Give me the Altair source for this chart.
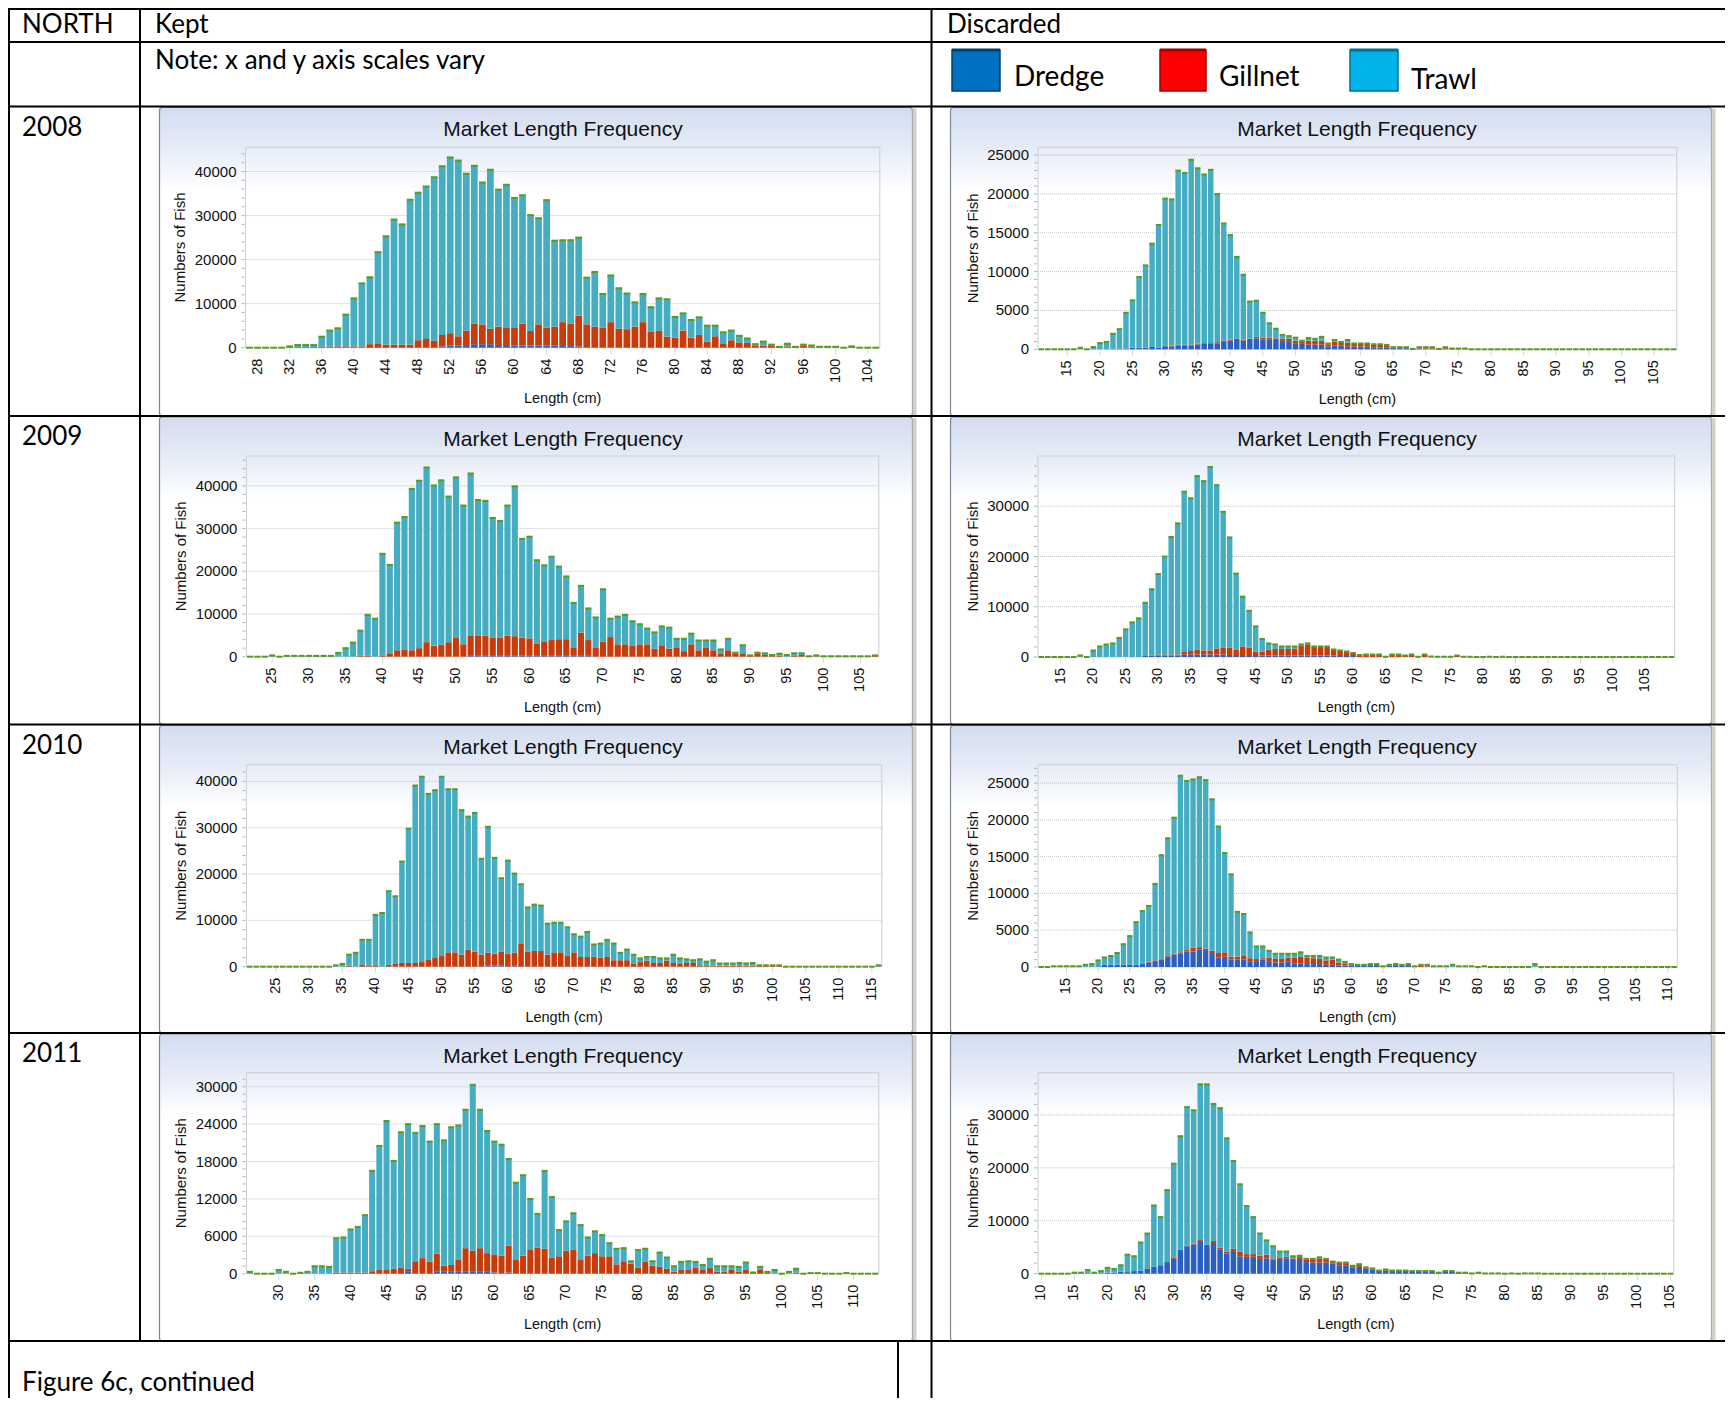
import altair as alt
import pandas as pd

W, H = 1717, 1390   # drawing area (page minus the 8px margin)
M = 8               # layout numbers below are page pixels; subtract M for chart pixels

GEARS = ["Dredge", "Gillnet", "Trawl"]
BAR_COLORS = ["#2b60c2", "#c83c0c", "#45adc1"]
CAP_COLOR = "#5b9a1d"


def run(a, b, v):
    return {c: v for c in range(a, b + 1)}


# ---------------------------------------------------------------- values
# KEPT 2008 (lengths 27..105)
K08_TOTAL = [0, 0, 0, 0, 0, 300, 600, 600, 600, 2500, 3900, 4400, 7500, 11200, 14600, 16000, 21700, 25300,
             29100, 28000, 33600, 35200, 36600, 38700, 41200, 43200, 42500, 39500, 41300, 37500, 40400, 35900,
             37000, 34000, 34600, 30100, 29400, 33500, 24300, 24400, 24400, 25000, 15900, 17200, 12200, 16400,
             13500, 12300, 10300, 12200, 9200, 11200, 11000, 7000, 7800, 6300, 6900, 5000, 5000, 3500, 3900,
             2700, 2100, 800, 1400, 700, 200, 900, 200, 700, 500, 200, 200, 200, 0, 300, 0, 0, 0]
K08_GILL = {**run(32, 35, 150), **run(36, 41, 300), 42: 800, 43: 1000, **run(44, 47, 550), 48: 1550, 49: 1850,
            50: 1450, 51: 2600, 52: 2800, 53: 2100, 54: 3300, 55: 4700, 56: 4500, 57: 3500, 58: 4200, 59: 3900,
            60: 4000, 61: 5000, 62: 3300, 63: 4800, 64: 4100, 65: 4300, 66: 5400, 67: 5100, 68: 7000, 69: 5150,
            70: 4650, 71: 4450, 72: 5650, 73: 4150, 74: 4050, 75: 4650, 76: 5650, 77: 3550, 78: 3650, 79: 2350,
            80: 2150, 81: 3900, 82: 2300, 83: 2900, 84: 1400, 85: 2600, 86: 1000, 87: 1700, 88: 1200, 89: 1100,
            90: 400, 91: 500, 92: 500, 93: 150, 94: 300, 95: 150, 96: 500, 97: 300, 98: 100, 99: 100, 100: 100,
            102: 200}
K08_DREDGE = {**run(44, 50, 150), 51: 300, 52: 500, 53: 500, 54: 600, 55: 800, 56: 800, 57: 800, 58: 600,
              59: 600, **run(60, 65, 500), 66: 400, 67: 400, 68: 300, **run(69, 80, 150)}

# KEPT 2009 (lengths 22..107)
K09_TOTAL = [0, 0, 0, 300, 0, 200, 200, 200, 200, 200, 200, 200, 900, 2000, 3300, 6100, 9800, 8900, 24100,
             21500, 31400, 32700, 39300, 41200, 44300, 40100, 41300, 37500, 42000, 35400, 42900, 36700, 36500,
             32500, 31800, 35400, 39900, 27600, 28100, 22600, 21400, 23400, 21100, 18800, 12600, 16600, 11300,
             9200, 15800, 8900, 9400, 9800, 8300, 7600, 6600, 5700, 7100, 6800, 4200, 4200, 5400, 3800, 3800,
             3800, 1700, 4200, 950, 2700, 300, 950, 800, 400, 700, 400, 800, 800, 100, 300, 100, 100, 100, 100,
             100, 100, 100, 300]
K09_GILL = {37: 200, 38: 200, 40: 300, 41: 800, 42: 1500, 43: 1700, 44: 1500, 45: 2000, 46: 3400, 47: 2600,
            48: 2800, 49: 3400, 50: 4400, 51: 2900, 52: 4800, 53: 4800, 54: 4700, 55: 4200, 56: 4200, 57: 4700,
            58: 4600, 59: 4300, 60: 4100, 61: 2800, 62: 3400, 63: 3700, 64: 3900, 65: 3900, 66: 2000, 67: 5400,
            68: 3700, 69: 2200, 70: 3500, 71: 4600, 72: 2900, 73: 2900, 74: 2500, 75: 2900, 76: 2900, 77: 1900,
            78: 2500, 79: 1900, 80: 2200, 81: 1300, 82: 2900, 83: 1500, 84: 2200, 85: 1500, 86: 800, 87: 1500,
            88: 800, 89: 800, 90: 300, 91: 800, 92: 400, 93: 200, 94: 200, 96: 300, 97: 400, 99: 100, 107: 300}
K09_DREDGE = run(52, 68, 200)

# KEPT 2010 (lengths 21..116)
K10_TOTAL = [0] * 13 + [300, 600, 2600, 3000, 5800, 5800, 11200, 11600, 16300, 15200, 22700, 29800, 39100,
                        41000, 37300, 38100, 41000, 38300, 38300, 33800, 32400, 33200, 23300, 30200, 23500,
                        19100, 22900, 20100, 17800, 12800, 13400, 13200, 9300, 9500, 9500, 8500, 7000, 6500,
                        7500, 4800, 5000, 5800, 5000, 3000, 3700, 2600, 1800, 2100, 2100, 1800, 1800, 2600,
                        1800, 1600, 1400, 1600, 1100, 1400, 700, 700, 700, 800, 700, 800, 300, 300, 300,
                        300] + [0] * 14 + [300]
K10_GILL = {36: 200, 38: 500, 39: 300, 40: 300, 42: 400, 43: 600, 44: 800, 45: 800, 46: 800, 47: 1000,
            48: 1600, 49: 1900, 50: 2300, 51: 3100, 52: 3100, 53: 2600, 54: 3700, 55: 3200, 56: 2600, 57: 2800,
            58: 2600, 59: 3000, 60: 2800, 61: 2800, 62: 4900, 63: 3200, 64: 3400, 65: 3400, 66: 2600, 67: 3100,
            68: 3100, 69: 2300, 70: 3100, 71: 2100, 72: 2100, 73: 2200, 74: 1900, 75: 2100, 76: 1400, 77: 1400,
            78: 1400, 79: 600, 80: 1000, 81: 1300, 82: 800, 83: 800, 84: 1300, 85: 800, 86: 600, 87: 800,
            88: 800, 89: 300, 90: 300, **run(91, 94, 200), 95: 300, **run(96, 101, 200)}
K10_DREDGE = {57: 200, 58: 200, 59: 200, 61: 200}

# KEPT 2011 (lengths 26..113)
K11_TOTAL = [300, 0, 0, 0, 600, 300, 0, 150, 300, 1200, 1200, 1100, 5700, 5800, 7100, 7500, 9400, 16500,
             20500, 24500, 18100, 22700, 24000, 22600, 23700, 21200, 24000, 21400, 23500, 23800, 26300, 30300,
             26300, 22900, 21200, 20700, 18400, 14600, 15800, 12000, 9600, 16500, 12300, 7000, 8400, 9700,
             7800, 5800, 6800, 6200, 4900, 4000, 4100, 2000, 3800, 4000, 2000, 3400, 2600, 1200, 1900, 2000,
             1900, 1400, 2400, 1200, 1200, 1200, 1100, 1800, 200, 1100, 300, 600, 0, 300, 800, 0, 100, 100,
             0, 0, 0, 100, 0, 0, 0, 0]
K11_GILL = {**run(38, 42, 200), 43: 400, 44: 600, 45: 700, 46: 800, 47: 1000, 48: 500, 49: 2000, 50: 2400,
            51: 1900, 52: 2900, 53: 1000, 54: 1100, 55: 1900, 56: 3700, 57: 3300, 58: 3700, 59: 3000,
            60: 2900, 61: 2800, 62: 4300, 63: 2100, 64: 2800, 65: 3700, 66: 4100, 67: 3900, 68: 2500,
            69: 2700, 70: 3600, 71: 3800, 72: 2200, 73: 2800, 74: 3200, 75: 2800, 76: 2800, 77: 1500,
            78: 2000, 79: 1600, 80: 1000, 81: 1900, 82: 1300, 83: 1100, 84: 800, 85: 300, 86: 600, 87: 600,
            88: 1000, 89: 600, 90: 900, 91: 300, 92: 300, 93: 600, 94: 300, 95: 600, 96: 100, 97: 600,
            98: 200, 102: 200, 109: 100}
K11_DREDGE = {48: 300, 50: 100, 52: 300, 53: 300, 54: 300, 55: 400, 56: 400, 57: 400, 58: 400, 59: 300,
              60: 200, 61: 100, 62: 200, **run(63, 74, 100)}

# DISCARDED 2008 (lengths 11..108)
D08_TOTAL = [0, 0, 0, 0, 0, 0, 200, 0, 300, 800, 950, 2000, 2600, 4700, 6300, 9300, 10800, 13600, 16000,
             19400, 19300, 23000, 22700, 24400, 23300, 22500, 23100, 20000, 16200, 14700, 11900, 9600, 6150,
             6250, 4700, 3350, 2650, 1850, 1700, 1500, 1100, 1450, 1350, 1600, 750, 1200, 950, 1200, 750, 750,
             750, 650, 650, 570, 270, 270, 270, 50, 270, 270, 270, 50, 270, 100, 100, 100, 0, 0, 0, 0, 0,
             0] + [0] * 26
D08_DREDGE = {22: 100, 23: 100, 24: 100, 25: 200, 26: 200, 27: 200, 28: 300, 29: 200, 30: 400, 31: 350,
              32: 500, 33: 500, 34: 500, 35: 600, 36: 700, 37: 700, 38: 770, 39: 950, 40: 1100, 41: 1200,
              42: 1100, 43: 1200, 44: 1400, 45: 1300, 46: 1300, 47: 1200, 48: 1080, 49: 950, 50: 700, 51: 700,
              52: 600, 53: 600, 54: 600, 55: 350, 56: 500, 57: 500, **run(58, 61, 350), **run(62, 64, 250),
              **run(65, 67, 150), 68: 50, **run(69, 71, 100)}
D08_GILL = {**run(30, 37, 100), **run(38, 43, 150), **run(44, 47, 200), 48: 300, 49: 400, 50: 400, 51: 300,
            52: 500, 53: 500, 54: 500, 55: 300, 56: 500, 57: 400, 58: 500, **run(59, 61, 350), 62: 300,
            63: 300, 64: 250, **run(65, 67, 100), **run(69, 71, 150), 72: 50, 73: 150, 74: 50}

# DISCARDED 2009 (lengths 12..109)
D09_TOTAL = [0, 0, 0, 0, 0, 0, 300, 0, 1300, 2100, 2500, 2700, 3800, 5500, 6900, 7700, 10800, 13500, 16500,
             20000, 23900, 26600, 32900, 31600, 36000, 35000, 37800, 34200, 28900, 23800, 16600, 12000, 9200,
             6100, 3600, 2700, 2500, 2100, 2100, 2100, 2500, 2700, 2100, 2100, 2100, 1500, 1300, 1100, 800,
             400, 500, 500, 500, 50, 500, 500, 300, 500, 50, 500, 100, 50, 50, 50, 300, 50, 50, 0, 0, 50, 0,
             50] + [0] * 26
D09_DREDGE = {28: 200, **run(29, 33, 300), **run(34, 40, 500), **run(41, 45, 400), **run(46, 57, 300),
              58: 200, 59: 200, 60: 200}
D09_GILL = {**run(30, 33, 200), 34: 500, 35: 700, 36: 1000, 37: 800, 38: 800, 39: 1200, 40: 1400, 41: 1500,
            42: 1000, 43: 1700, 44: 1500, 45: 700, 46: 800, 47: 1200, 48: 1300, 49: 1300, 50: 1300, 51: 1400,
            52: 2000, 53: 2200, 54: 1700, 55: 1700, 56: 1700, 57: 1100, 58: 1000, 59: 800, 60: 500, 61: 300,
            62: 400, 63: 400, 64: 400, 65: 50, 66: 400, 67: 400, 68: 300, 69: 400, 71: 500, 72: 100, 73: 50,
            74: 50, 75: 50, 76: 200, 77: 50, 78: 50}

# DISCARDED 2010 (lengths 11..111)
D10_TOTAL = [0, 0, 100, 100, 100, 100, 100, 300, 400, 900, 1300, 1500, 1900, 3100, 4200, 6100, 7600, 8300,
             11300, 15200, 17500, 20300, 26000, 25300, 25500, 25800, 25400, 22800, 19100, 15500, 12600, 7500,
             7200, 4700, 2800, 2800, 2200, 1800, 1800, 1800, 1800, 2000, 1500, 1500, 1500, 1300, 1300, 1000,
             700, 400, 300, 300, 400, 400, 100, 300, 400, 300, 400, 100, 300, 300, 100, 100, 100, 300, 100,
             100, 100, 0, 100, 0, 0, 0, 0, 0, 0, 0, 400] + [0] * 22
D10_DREDGE = {**run(21, 26, 300), 27: 400, 28: 600, 29: 800, 30: 1000, 31: 1400, 32: 1700, 33: 1800,
              34: 2100, 35: 2100, 36: 2400, 37: 2300, 38: 1900, 39: 1300, 40: 1400, 41: 1000, 42: 1000,
              43: 1000, 44: 800, 45: 800, 46: 1000, 47: 800, 48: 600, 49: 600, 50: 700, 51: 500, 52: 500,
              53: 400, 54: 400, 55: 400, 56: 300, 57: 300, 58: 200, 59: 200, **run(60, 64, 150), 65: 50,
              **run(66, 69, 150), 70: 50}
D10_GILL = {**run(28, 32, 100), 33: 200, 34: 200, 35: 500, 36: 300, 37: 200, 38: 300, 39: 600, 40: 600,
            41: 400, 42: 400, 43: 500, 44: 400, 45: 300, 46: 200, 47: 500, 48: 500, 49: 500, 50: 600, 51: 800,
            52: 900, 53: 900, 54: 800, 55: 700, 56: 600, 57: 700, 58: 400, 59: 300, 60: 100, 61: 100, 62: 100,
            63: 150, 64: 150, 65: 50, 66: 100, 67: 150, 68: 100, 69: 150, 70: 50, 71: 200, 72: 100}

# DISCARDED 2011 (lengths 10..105)
D11_TOTAL = [0, 0, 0, 0, 0, 200, 200, 700, 200, 500, 1100, 900, 1600, 3600, 3300, 5900, 7600, 12900, 10700,
             15800, 20800, 26000, 31500, 30900, 35800, 35800, 32100, 31300, 25600, 21300, 16900, 12800, 10700,
             7600, 6300, 5200, 4200, 4200, 3300, 3400, 2800, 2800, 3100, 2800, 2300, 2100, 2100, 1500, 1800,
             1200, 1000, 600, 800, 600, 600, 600, 500, 500, 500, 500, 200, 500, 500, 200, 200, 50, 200, 50, 50,
             50, 0, 50, 0, 50, 50, 50] + [0] * 20
D11_DREDGE = {20: 200, 21: 200, 22: 400, 23: 300, 24: 500, 25: 600, 26: 1000, 27: 1300, 28: 1600, 29: 2200,
              30: 2800, 31: 4500, 32: 5200, 33: 5500, 34: 6200, 35: 5500, 36: 5800, 37: 4600, 38: 3800,
              39: 4300, 40: 3300, 41: 3200, 42: 3200, 43: 2800, 44: 2900, 45: 2700, 46: 2800, 47: 2900,
              48: 2600, 49: 2800, 50: 2200, 51: 2100, 52: 2100, 53: 2100, 54: 1900, 55: 1600, 56: 1600,
              57: 1200, 58: 1300, 59: 1000, 60: 800, 61: 500, 62: 600, 63: 500, 64: 500, 65: 500,
              **run(66, 69, 400), 70: 200, 71: 400, 72: 400, 73: 200, 74: 200, 75: 50, 76: 100, 77: 50,
              78: 50, 79: 50, 81: 50, 83: 50, 84: 50, 85: 50}
D11_GILL = {30: 200, 32: 100, 33: 200, 34: 300, 36: 400, 37: 300, 38: 400, 39: 400, 40: 900, 41: 500,
            42: 500, 43: 600, 44: 700, 45: 200, 46: 300, 47: 300, 48: 300, 49: 400, 50: 500, 51: 500, 52: 800,
            53: 700, 54: 400, 55: 500, 56: 400, 57: 300, 58: 500, 59: 200, 60: 200, 61: 100, 62: 200,
            **run(63, 69, 100)}

# tick labels
K08_XTICKS = list(range(28, 105, 4))
K09_XTICKS = list(range(25, 106, 5))
K10_XTICKS = list(range(25, 116, 5))
K11_XTICKS = list(range(30, 111, 5))
D08_XTICKS = list(range(15, 106, 5))
D09_XTICKS = list(range(15, 106, 5))
D10_XTICKS = list(range(15, 111, 5))
D11_XTICKS = list(range(10, 106, 5))

YEARS = ["2008", "2009", "2010", "2011"]

# ---------------------------------------------------------------- layout (page px)
ROW_TOPS = [106.5, 416, 724.5, 1033]
ROW_BOTS = [416, 724.5, 1033, 1341]
KEPT_BOX = (159.5, 912.5)
DISC_BOX = (950.5, 1711.5)
KEPT_TITLE_X, DISC_TITLE_X = 563, 1357

PANELS = [
    dict(row=0, first=27, last=105, total=K08_TOTAL, gill=K08_GILL, dredge=K08_DREDGE, xticks=K08_XTICKS,
         ymax=45500, major=10000, minor=2000, x0=245.5, x1=879.8, top=147.3, base=347.7),
    dict(row=1, first=22, last=107, total=K09_TOTAL, gill=K09_GILL, dredge=K09_DREDGE, xticks=K09_XTICKS,
         ymax=47000, major=10000, minor=2000, x0=246.4, x1=878.8, top=456, base=656.7),
    dict(row=2, first=21, last=116, total=K10_TOTAL, gill=K10_GILL, dredge=K10_DREDGE, xticks=K10_XTICKS,
         ymax=43600, major=10000, minor=2000, x0=246.4, x1=881.8, top=764.7, base=966.7),
    dict(row=3, first=26, last=113, total=K11_TOTAL, gill=K11_GILL, dredge=K11_DREDGE, xticks=K11_XTICKS,
         ymax=32250, major=6000, minor=1200, x0=246.4, x1=878.8, top=1072.7, base=1273.7),
    dict(row=0, first=11, last=108, total=D08_TOTAL, gill=D08_GILL, dredge=D08_DREDGE, xticks=D08_XTICKS,
         ymax=26000, major=5000, minor=1000, x0=1038, x1=1676.8, top=147.3, base=349.3),
    dict(row=1, first=12, last=109, total=D09_TOTAL, gill=D09_GILL, dredge=D09_DREDGE, xticks=D09_XTICKS,
         ymax=40000, major=10000, minor=2000, x0=1038, x1=1674.7, top=456, base=657),
    dict(row=2, first=11, last=111, total=D10_TOTAL, gill=D10_GILL, dredge=D10_DREDGE, xticks=D10_XTICKS,
         ymax=27500, major=5000, minor=1000, x0=1038, x1=1677.3, top=764.7, base=967),
    dict(row=3, first=10, last=105, total=D11_TOTAL, gill=D11_GILL, dredge=D11_DREDGE, xticks=D11_XTICKS,
         ymax=38000, major=10000, minor=2000, x0=1038, x1=1673.8, top=1072.7, base=1273.7),
]

PANEL_FONT = "Liberation Sans"
TABLE_FONT = "Lato"
XAXIS_TEXT = dict(font=PANEL_FONT, fontSize=14.5, color="#111111")
YAXIS_TEXT = dict(font=PANEL_FONT, fontSize=15, color="#111111")
TICK_COLOR = "#b3b3b3"


def stacked_frames(p):
    rows, caps = [], []
    for i, cm in enumerate(range(p["first"], p["last"] + 1)):
        tot = p["total"][i] if i < len(p["total"]) else 0
        d = min(p["dredge"].get(cm, 0), tot)
        g = min(p["gill"].get(cm, 0), tot - d)
        t = tot - d - g
        base = 0
        for gear, v in zip(GEARS, (d, g, t)):
            if v > 0:
                rows.append(dict(length=cm, gear=gear, y0=base, y1=base + v, x0=cm - 0.42, x1=cm + 0.42))
            base += v
        caps.append(dict(length=cm, total=tot, x0=cm - 0.42, x1=cm + 0.42))
    return pd.DataFrame(rows), pd.DataFrame(caps)


def hist_chart(p):
    bars_df, caps_df = stacked_frames(p)
    x0, x1, top, base = p["x0"] - M, p["x1"] - M, p["top"] - M, p["base"] - M
    xs = alt.Scale(domain=[p["first"] - 0.5, p["last"] + 0.5], range=[x0, x1], nice=False, zero=False)
    ys = alt.Scale(domain=[0, p["ymax"]], range=[base, top], nice=False, zero=False)
    major = p["major"]
    xt = pd.DataFrame({"v": p["xticks"]})
    yt_major = pd.DataFrame({"v": list(range(0, p["ymax"], major))})
    yt_minor = pd.DataFrame({"v": list(range(0, p["ymax"], p["minor"]))})
    grid_df = pd.DataFrame({"v": list(range(major, p["ymax"], major))})

    def X(f):
        return alt.X(f, scale=xs, axis=None)

    def Y(f):
        return alt.Y(f, scale=ys, axis=None)

    grid = alt.Chart(grid_df).mark_rule(color="#c2c2c2", strokeDash=[1, 1], strokeWidth=1).encode(
        y=Y("v:Q"), x=alt.value(x0), x2=alt.value(x1))
    bars = alt.Chart(bars_df).mark_bar().encode(
        x=X("x0:Q"), x2="x1:Q", y=Y("y1:Q"), y2="y0:Q",
        color=alt.Color("gear:N", scale=alt.Scale(domain=GEARS, range=BAR_COLORS), legend=None))
    caps = alt.Chart(caps_df).mark_rule(color=CAP_COLOR, strokeWidth=2).encode(
        x=X("x0:Q"), x2="x1:Q", y=Y("total:Q"))
    # x axis: ticks, rotated labels, title
    xticks = alt.Chart(xt).mark_rule(color=TICK_COLOR, strokeDash=[1, 1]).encode(
        x=X("v:Q"), y=alt.value(base + 1), y2=alt.value(base + 6))
    xlabels = alt.Chart(xt).mark_text(angle=270, align="right", baseline="middle", **XAXIS_TEXT).encode(
        x=X("v:Q"), y=alt.value(base + 11), text=alt.Text("v:Q", format="d"))
    xtitle = alt.Chart(pd.DataFrame({"t": ["Length (cm)"]})).mark_text(
        align="center", baseline="alphabetic", **XAXIS_TEXT).encode(
        x=alt.value((x0 + x1) / 2), y=alt.value(base + 55), text="t:N")
    # y axis: minor ticks, labels at majors, title
    yticks = alt.Chart(yt_minor).mark_rule(color=TICK_COLOR).encode(
        y=Y("v:Q"), x=alt.value(x0 - 4), x2=alt.value(x0 - 1))
    ylabels = alt.Chart(yt_major).mark_text(align="right", baseline="middle", **YAXIS_TEXT).encode(
        y=Y("v:Q"), x=alt.value(x0 - 9), text=alt.Text("v:Q", format="d"))
    ytitle = alt.Chart(pd.DataFrame({"t": ["Numbers of Fish"]})).mark_text(
        angle=270, align="center", baseline="middle", **YAXIS_TEXT).encode(
        x=alt.value(x0 - 65.5), y=alt.value((top + base) / 2), text="t:N")
    return alt.layer(grid, bars, caps, xticks, xlabels, xtitle, yticks, ylabels, ytitle)


def px(col):
    return alt.X(f"{col}:Q", scale=None, axis=None)


def py(col):
    return alt.Y(f"{col}:Q", scale=None, axis=None)


# ---------------- decoration tables (chart px)
boxes, bands, titles = [], [], []
for r in range(4):
    for (bx0, bx1), tx in ((KEPT_BOX, KEPT_TITLE_X), (DISC_BOX, DISC_TITLE_X)):
        boxes.append(dict(x0=bx0 - M, x1=bx1 - M, y0=ROW_TOPS[r] + 1 - M, y1=ROW_BOTS[r] - M))
        bands.append(dict(x0=bx1 - M, x1=bx1 + 4 - M, y0=ROW_TOPS[r] + 2 - M, y1=ROW_BOTS[r] - M))
        titles.append(dict(label="Market Length Frequency", x=tx - M, y=ROW_TOPS[r] + 29.5 - M))
frames = [dict(x0=p["x0"] - M, x1=p["x1"] - M, y0=p["top"] - M, y1=p["base"] - M) for p in PANELS]

gradient = alt.LinearGradient(
    gradient="linear", x1=0, x2=0, y1=0, y2=1,
    stops=[alt.GradientStop(color="#d3ddf0", offset=0),
           alt.GradientStop(color="#e4eaf6", offset=0.12),
           alt.GradientStop(color="#f6f8fc", offset=0.22),
           alt.GradientStop(color="#ffffff", offset=0.27),
           alt.GradientStop(color="#ffffff", offset=1)])

box_layer = alt.Chart(pd.DataFrame(boxes)).mark_rect(
    fill=gradient, stroke="#7c8796", strokeWidth=1.2, cornerRadius=3).encode(
    x=px("x0"), x2="x1", y=py("y0"), y2="y1")
band_layer = alt.Chart(pd.DataFrame(bands)).mark_rect(fill="#d4d0c8").encode(
    x=px("x0"), x2="x1", y=py("y0"), y2="y1")
frame_layer = alt.Chart(pd.DataFrame(frames)).mark_rect(
    fillOpacity=0, stroke="#c9cdd6", strokeWidth=1).encode(
    x=px("x0"), x2="x1", y=py("y0"), y2="y1")
title_layer = alt.Chart(pd.DataFrame(titles)).mark_text(
    font=PANEL_FONT, fontSize=21, align="center", baseline="alphabetic", color="#111111").encode(
    x=px("x"), y=py("y"), text="label:N")

lines = [dict(x0=8, x1=1733, y0=y, y1=y) for y in (9, 42, 106.5, 416, 724.5, 1033, 1341)]
lines += [dict(x0=9, x1=9, y0=9, y1=1411), dict(x0=140, x1=140, y0=9, y1=1341),
          dict(x0=931.5, x1=931.5, y0=9, y1=1411), dict(x0=898, x1=898, y0=1341, y1=1411)]
lines_df = pd.DataFrame([{k: v - M for k, v in d.items()} for d in lines])
line_layer = alt.Chart(lines_df).mark_rule(color="#000000", strokeWidth=2).encode(
    x=px("x0"), x2="x1", y=py("y0"), y2="y1")

table_text = [("NORTH", 22, 33), ("Kept", 155, 33), ("Discarded", 947, 33),
              ("Note: x and y axis scales vary", 155, 69)]
table_text += [(yr, 22, ROW_TOPS[i] + 29) for i, yr in enumerate(YEARS)]
table_text += [("Figure 6c, continued", 22, 1391)]
text_df = pd.DataFrame([dict(label=t, x=x - M, y=y - M) for t, x, y in table_text])
text_layer = alt.Chart(text_df).mark_text(
    font=TABLE_FONT, fontSize=26, align="left", baseline="alphabetic", color="#000000").encode(
    x=px("x"), y=py("y"), text="label:N")

legend_boxes = pd.DataFrame([
    dict(gear="Dredge", x0=952 - M, x1=1000 - M, col="#0070c0", edge="#00406e"),
    dict(gear="Gillnet", x0=1160 - M, x1=1206 - M, col="#ff0000", edge="#a00000"),
    dict(gear="Trawl", x0=1350 - M, x1=1398 - M, col="#00b2e8", edge="#007096"),
]).assign(y0=50 - M, y1=91 - M)
legend_rect = alt.Chart(legend_boxes).mark_rect(strokeWidth=1.5).encode(
    x=px("x0"), x2="x1", y=py("y0"), y2="y1",
    fill=alt.Fill("col:N", scale=None), stroke=alt.Stroke("edge:N", scale=None))
legend_top = alt.Chart(legend_boxes).mark_rule(strokeWidth=3).encode(
    x=px("x0"), x2="x1", y=py("y0"), stroke=alt.Stroke("edge:N", scale=None))
legend_text = alt.Chart(pd.DataFrame([
    dict(label="Dredge", x=1014 - M, y=86 - M),
    dict(label="Gillnet", x=1219 - M, y=86 - M),
    dict(label="Trawl", x=1411 - M, y=89 - M),
])).mark_text(font=TABLE_FONT, fontSize=28, align="left", baseline="alphabetic", color="#000000").encode(
    x=px("x"), y=py("y"), text="label:N")

hists = [hist_chart(p) for p in PANELS]

chart = alt.layer(
    box_layer, band_layer, frame_layer, title_layer, *hists,
    line_layer, text_layer, legend_rect, legend_top, legend_text,
).resolve_scale(x="independent", y="independent").properties(
    width=W, height=H, autosize=alt.AutoSizeParams(type="none"), padding=0,
    background="#ffffff",
).configure_view(stroke=None)

chart.save("out.html", embed_options={"renderer": "svg", "actions": False})
